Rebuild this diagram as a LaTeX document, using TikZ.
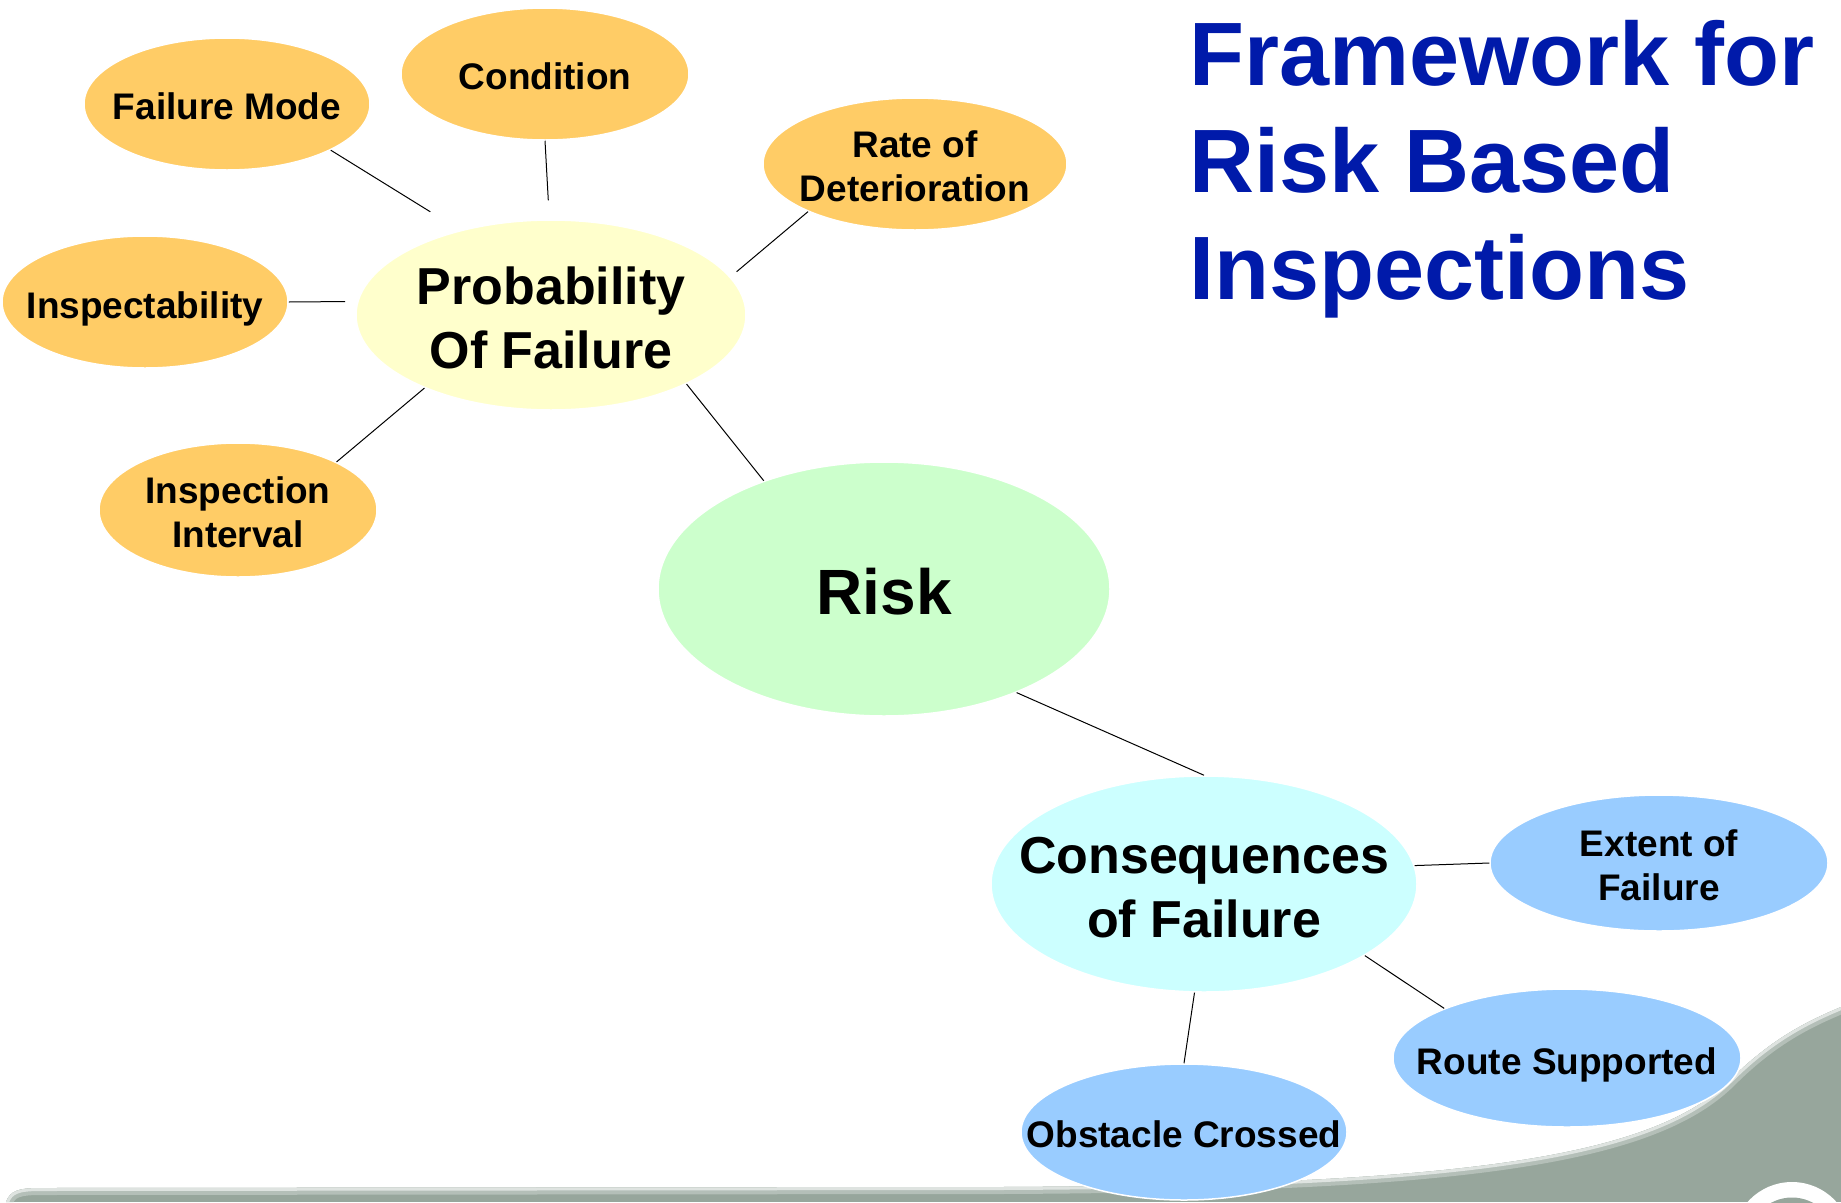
\documentclass[tikz,border=0pt]{standalone}
\usepackage{fontspec}
\setmainfont{Liberation Sans}
\usetikzlibrary{shapes.geometric}

\definecolor{ochre}{RGB}{255,204,102}
\definecolor{paleyellow}{RGB}{255,255,204}
\definecolor{palegreen}{RGB}{204,255,204}
\definecolor{palecyan}{RGB}{204,255,255}
\definecolor{skyblue}{RGB}{153,204,255}
\definecolor{titleblue}{RGB}{0,26,170}
\definecolor{swoosh}{RGB}{151,166,156}
\definecolor{swooshmid}{RGB}{180,191,184}
\definecolor{swooshedge}{RGB}{222,227,224}

% invisible strut that sets the height of a label's first line
\newcommand\firstlinestrut[1]{\rule{0pt}{#1}}

% upper edge of the grey footer band
\def\swooshtop{(6,1202) .. controls (10,1191) and (18,1188) .. (40,1188) -- (1000,1187)
  .. controls (1450,1185) and (1650,1160) .. (1730,1080)
  .. controls (1770,1040) and (1805,1022) .. (1841,1007)}

\begin{document}
\begin{tikzpicture}[x=1pt,y=-1pt,
  bubble/.style={ellipse, draw=white, line width=1.5pt, inner sep=-100pt, align=center, text=black},
  smallfont/.style={font=\fontsize{37}{44}\selectfont\bfseries,
                    execute at begin node={\firstlinestrut{32pt}}},
  bigfont/.style={font=\fontsize{52}{64}\selectfont\bfseries},
  factor/.style={bubble, fill=ochre, smallfont},
  effect/.style={bubble, fill=skyblue, smallfont},
  link/.style={draw=black, line width=1pt}]

\useasboundingbox (0,0) rectangle (1841,1202);

% footer band
\begin{scope}
  \clip \swooshtop -- (1841,1202) -- cycle;
  \fill[swoosh] (0,900) rectangle (1841,1202);
  \draw[swooshmid, line width=14pt] \swooshtop;
  \draw[swooshedge, line width=6pt] \swooshtop;
\end{scope}
\fill[white] (1792,1241.5) circle (59.5pt);
\fill[swoosh] (1792,1241.5) circle (44pt);

% title
\node[anchor=north west, inner sep=0pt, align=left, text=titleblue,
      font=\fontsize{90}{107}\selectfont\bfseries] (title) at (1189,20)
  {Framework for\\Risk Based\\Inspections};

% probability side
\node[factor, minimum width=286pt, minimum height=132pt] (fm) at (227,104) {Failure Mode};
\node[factor, minimum width=288pt, minimum height=132pt] (cond) at (545,74) {Condition};
\node[factor, minimum width=304pt, minimum height=132pt] (rate) at (915,164)
  {\firstlinestrut{32pt}Rate of\\Deterioration};
\node[factor, minimum width=286pt, minimum height=132pt, text depth=0pt] (insp) at (145,302) {Inspectability};
\node[factor, minimum width=278pt, minimum height=134pt] (intv) at (238,510)
  {\firstlinestrut{32pt}Inspection\\Interval};
\node[bubble, fill=paleyellow, bigfont, minimum width=390pt, minimum height=190pt] (pof) at (551,315)
  {\firstlinestrut{44pt}Probability\\Of Failure};

% centre
\node[bubble, fill=palegreen, font=\fontsize{64}{76}\selectfont\bfseries,
      minimum width=452pt, minimum height=254pt] (risk) at (884,589)
  {\firstlinestrut{52pt}Risk};

% consequence side
\node[bubble, fill=palecyan, bigfont, minimum width=426pt, minimum height=216pt] (cof) at (1204,884)
  {\firstlinestrut{44pt}Consequences\\of Failure};
\node[effect, minimum width=338pt, minimum height=136pt] (ext) at (1659,863)
  {\firstlinestrut{32pt}Extent of\\Failure};
\node[effect, minimum width=348pt, minimum height=138pt, text depth=0pt] (route) at (1567,1058) {Route Supported};
\node[effect, minimum width=326pt, minimum height=136pt] (obst) at (1184,1132) {Obstacle Crossed};

% connectors
\draw[link, shorten >=35pt] (fm.-24.5) -- (pof.137.6);
\draw[link, shorten >=19pt] (cond.-90) -- (pof.91);
\draw[link, shorten >=12pt] (insp.0) -- (pof.176);
\draw[link] (intv.26) -- (pof.210);
\draw[link, shorten >=8pt] (rate.204) -- (pof.12);
\draw[link] (pof.-27) -- (risk.138);
\draw[link] (risk.-38) -- (cof.90);
\draw[link] (cof.5) -- (ext.180);
\draw[link] (cof.-24) -- (route.158);
\draw[link] (cof.-95) -- (obst.90);

\end{tikzpicture}
\end{document}
